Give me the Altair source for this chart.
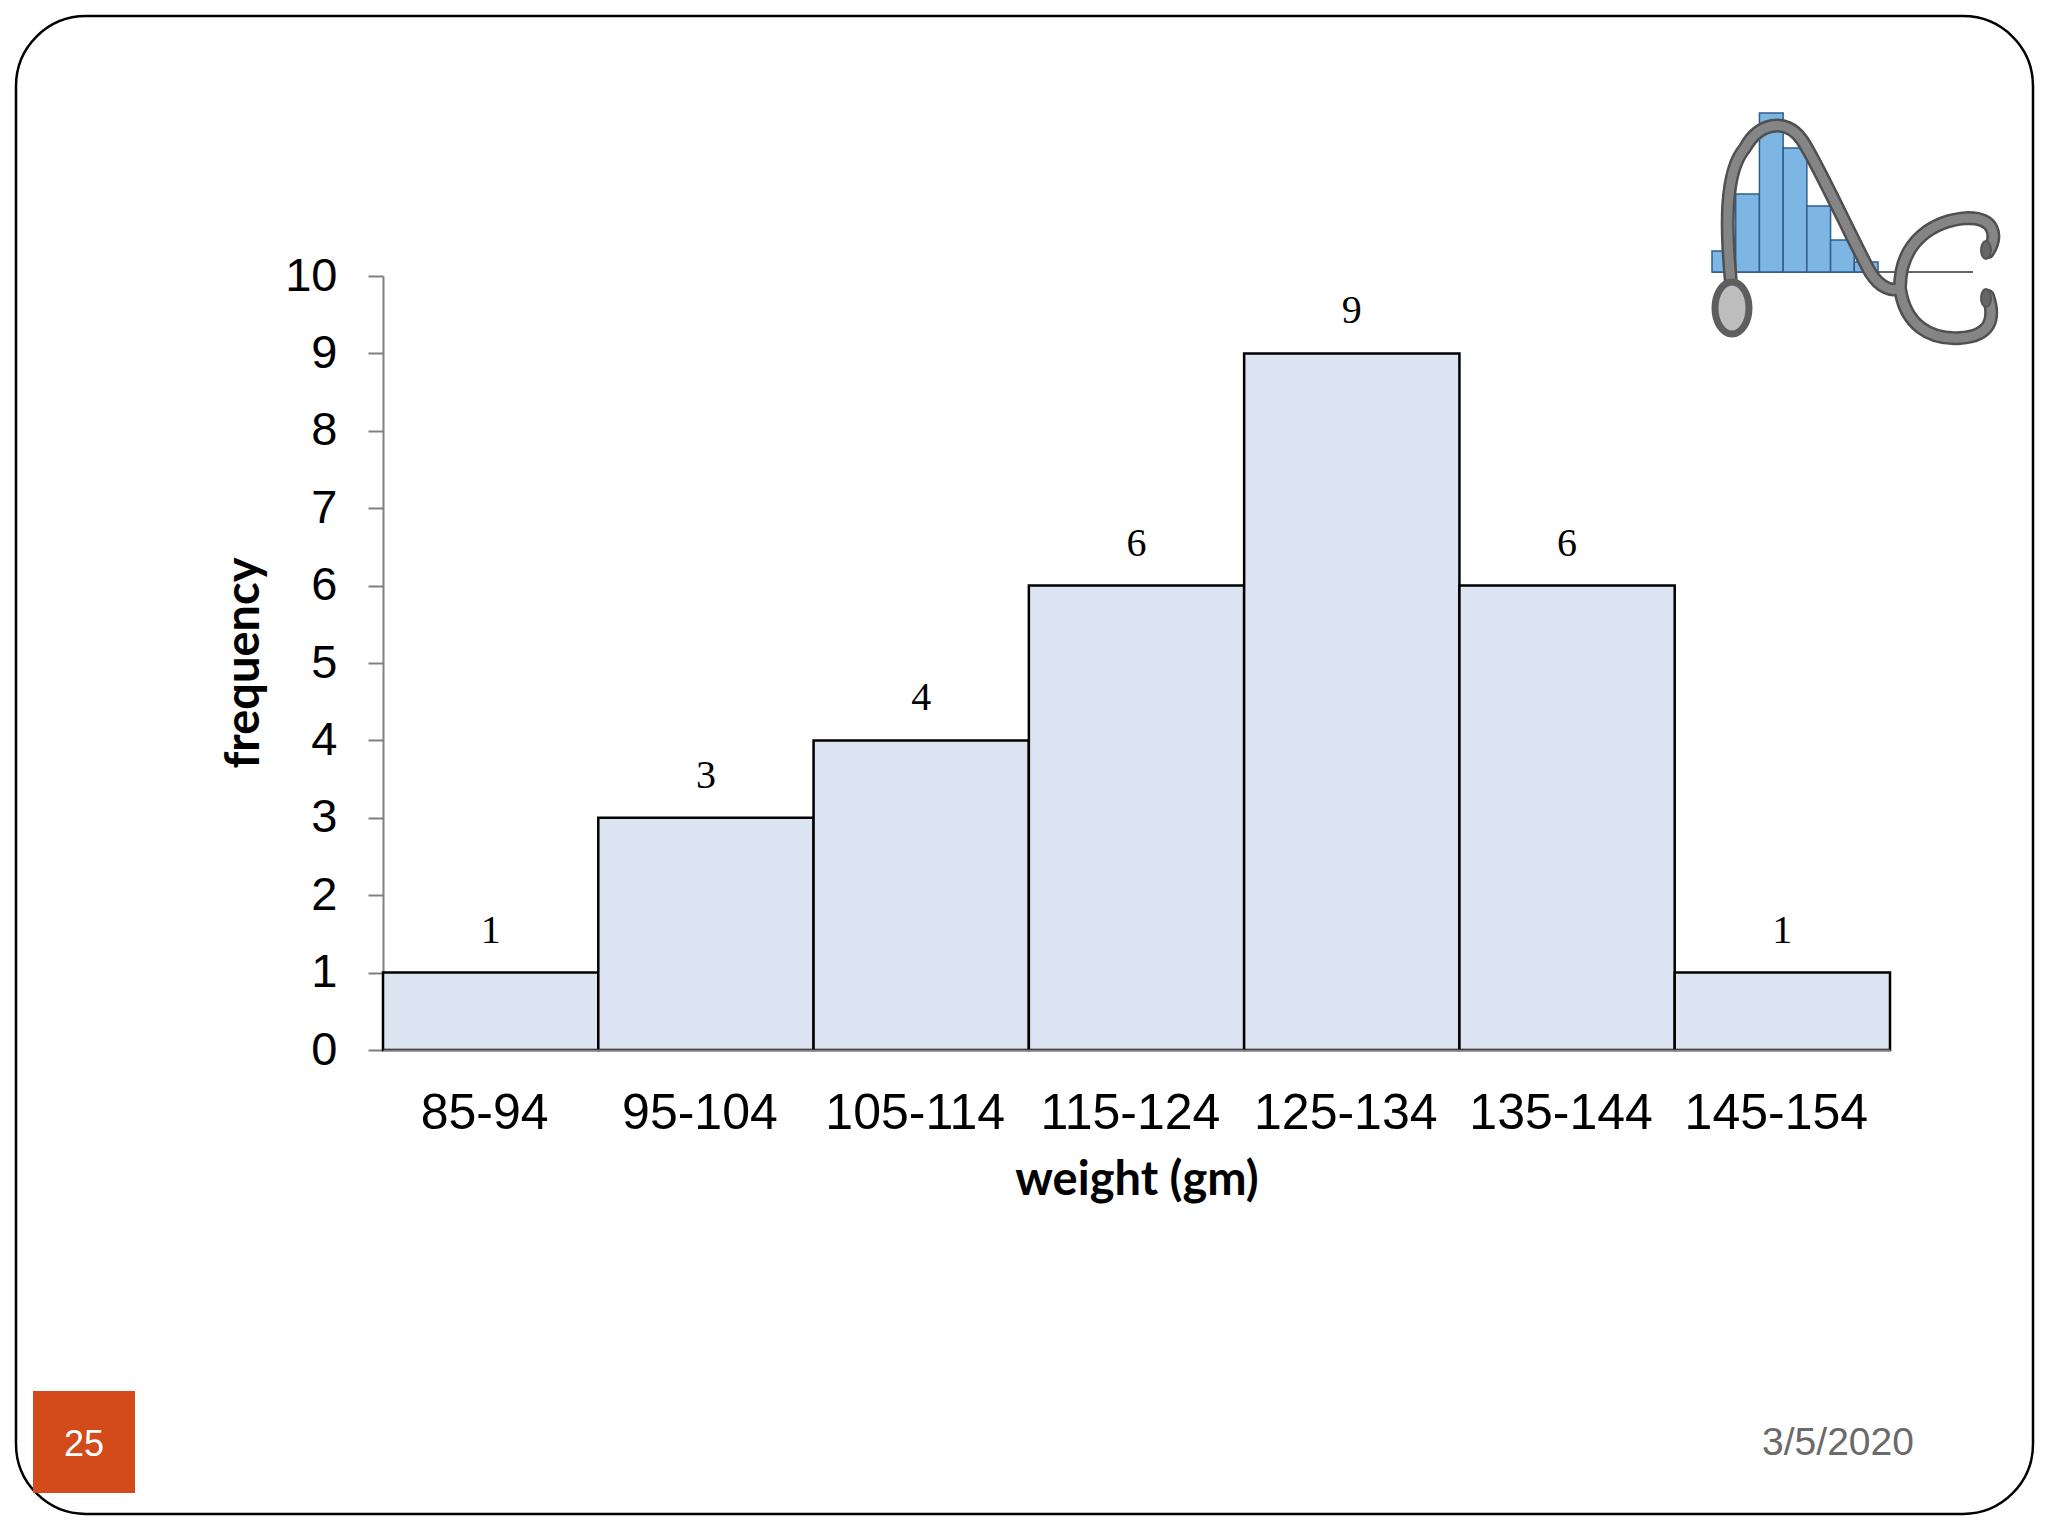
import altair as alt
import pandas as pd

# ---- chart data ----
categories = ["85-94", "95-104", "105-114", "115-124", "125-134", "135-144", "145-154"]
frequency = [1, 3, 4, 6, 9, 6, 1]
y_ticks = list(range(0, 11))

# ---- decorative logo histogram (relative bar heights) ----
logo_heights = [21, 78, 159, 124, 66, 32, 10]

x_title = "weight (gm)"
y_title = "frequency"
page_number = "25"
date_text = "3/5/2020"

W, H = 1507, 774
OX, OY = 383, 276  # plot origin on the page


def rx(px):
    return px - OX


def ry(py):
    return py - OY


df = pd.DataFrame({"range": categories, "freq": frequency})
one = pd.DataFrame({"a": [0]})

bars = alt.Chart(df).mark_bar(fill="#DCE4F2", stroke="black", strokeWidth=2.5).encode(
    x=alt.X(
        "range:N",
        sort=categories,
        scale=alt.Scale(paddingInner=0, paddingOuter=0),
        axis=alt.Axis(
            title=None,
            labelAngle=0,
            labelFont="Liberation Sans",
            labelFontSize=50,
            labelColor="black",
            labelPadding=38,
            labelLimit=0,
            labelOffset=-6,
            ticks=False,
            tickSize=0,
            domainColor="#808080",
            domainWidth=2,
            zindex=1,
        ),
    ),
    y=alt.Y(
        "freq:Q",
        scale=alt.Scale(domain=[0, 10], nice=False),
        axis=alt.Axis(
            title=None,
            values=y_ticks,
            format="d",
            grid=False,
            labelFont="Liberation Sans",
            labelFontSize=47,
            labelColor="black",
            labelPadding=31,
            tickSize=15,
            tickColor="#808080",
            tickWidth=2,
            domainColor="#808080",
            domainWidth=2,
        ),
    ),
)

labels = alt.Chart(df).mark_text(
    font="Liberation Serif", fontSize=40, baseline="alphabetic", align="center", dy=-30, color="black"
).encode(
    x=alt.X("range:N", sort=categories),
    y=alt.Y("freq:Q"),
    text=alt.Text("freq:Q"),
)

main = alt.layer(bars, labels)

# ---- slide decorations ----
border = alt.Chart(one).mark_rect(
    fill="transparent", stroke="black", strokeWidth=2.5, cornerRadius=70
).encode(
    x=alt.value(rx(16)), x2=alt.value(rx(2033)), y=alt.value(ry(16)), y2=alt.value(ry(1514))
)

orange_box = alt.Chart(one).mark_rect(fill="#D34A1B").encode(
    x=alt.value(rx(33)), x2=alt.value(rx(135)), y=alt.value(ry(1391)), y2=alt.value(ry(1493))
)

page_txt = alt.Chart(one).mark_text(
    text=page_number, font="Liberation Sans", fontSize=36, color="white", align="center", baseline="middle"
).encode(x=alt.value(rx(84)), y=alt.value(ry(1445)))

date_txt = alt.Chart(one).mark_text(
    text=date_text, font="Liberation Sans", fontSize=39, color="#6a6a6a", align="center", baseline="alphabetic"
).encode(x=alt.value(rx(1838)), y=alt.value(ry(1455)))

xtitle = alt.Chart(one).mark_text(
    text=x_title, font="Lato", fontWeight="bold", fontSize=47, color="black", align="center", baseline="alphabetic"
).encode(x=alt.value(rx(1137)), y=alt.value(ry(1195)))

ytitle = alt.Chart(one).mark_text(
    text=y_title, font="Lato", fontWeight="bold", fontSize=47, color="black", align="center",
    baseline="middle", angle=270
).encode(x=alt.value(rx(245)), y=alt.value(ry(663)))

# ---- logo ----
logo_df = pd.DataFrame({
    "i0": list(range(len(logo_heights))),
    "i1": [i + 1 for i in range(len(logo_heights))],
    "h": logo_heights,
})
logo_bars = alt.Chart(logo_df).mark_rect(fill="#7DB5E3", stroke="#2F5F8F", strokeWidth=1.5).encode(
    x=alt.X("i0:Q", scale=alt.Scale(domain=[0, 7], range=[rx(1712), rx(1878)]), axis=None),
    x2="i1:Q",
    y=alt.Y("h:Q", scale=alt.Scale(domain=[0, 160], range=[ry(272), ry(112)]), axis=None),
    y2=alt.datum(0),
)

logo_line = alt.Chart(one).mark_rule(color="#333333", strokeWidth=1.5).encode(
    x=alt.value(rx(1712)), x2=alt.value(rx(1973)), y=alt.value(ry(272))
)

CX, CY, S = 1856, 222, 150.0


def p(x, y):
    return f"{(x - CX) / S:.4f},{(y - CY) / S:.4f}"


tube_cmds = [
    ("M", [(1731, 283)]),
    ("C", [(1726, 230), (1724, 172), (1745, 148)]),
    ("C", [(1758, 124), (1785, 116), (1802, 140)]),
    ("C", [(1818, 164), (1850, 235), (1870, 272)]),
    ("C", [(1880, 288), (1892, 292), (1900, 288)]),
    ("M", [(1900, 288)]),
    ("C", [(1900, 240), (1935, 220), (1968, 218)]),
    ("C", [(1995, 218), (1998, 236), (1988, 252)]),
    ("M", [(1900, 288)]),
    ("C", [(1905, 325), (1930, 340), (1960, 338)]),
    ("C", [(1990, 336), (1996, 320), (1988, 296)]),
]
tube_path = " ".join(c + " " + " ".join(p(x, y) for x, y in pts) for c, pts in tube_cmds)


def ellipse(cx, cy, ex, ey):
    a = f"{ex / S:.4f} {ey / S:.4f}"
    return (f"M {p(cx, cy - ey)} A {a} 0 1 0 {p(cx, cy + ey)} "
            f"A {a} 0 1 0 {p(cx, cy - ey)} Z")


chest_path = ellipse(1732, 308, 17, 26)
ear_path = ellipse(1986, 250, 5, 9) + " " + ellipse(1986, 298, 5, 9)

pos = dict(x=alt.value(rx(CX)), y=alt.value(ry(CY)))
tube_dark = alt.Chart(one).mark_point(
    shape=tube_path, size=(2 * S) ** 2, filled=False, stroke="#505050", strokeWidth=14, opacity=1, strokeCap="round"
).encode(**pos)
tube_light = alt.Chart(one).mark_point(
    shape=tube_path, size=(2 * S) ** 2, filled=False, stroke="#858585", strokeWidth=9, opacity=1, strokeCap="round"
).encode(**pos)
chest = alt.Chart(one).mark_point(
    shape=chest_path, size=(2 * S) ** 2, filled=True, fill="#bdbdbd", stroke="#5e5e5e", strokeWidth=7, opacity=1
).encode(**pos)
ears = alt.Chart(one).mark_point(
    shape=ear_path, size=(2 * S) ** 2, filled=True, fill="#666666", stroke="#555555", strokeWidth=2, opacity=1
).encode(**pos)

chart = alt.layer(
    border, orange_box, page_txt, date_txt, xtitle, ytitle,
    main,
    logo_line, logo_bars, tube_dark, tube_light, chest, ears,
).resolve_scale(x="independent", y="independent").properties(
    width=W, height=H,
    autosize=alt.AutoSizeParams(type="none"),
    padding={"left": OX - 8, "top": OY - 8, "right": 150, "bottom": 470},
).configure(background="white").configure_view(stroke=None)

chart.save("out.html", embed_options={"renderer": "svg", "actions": False})
